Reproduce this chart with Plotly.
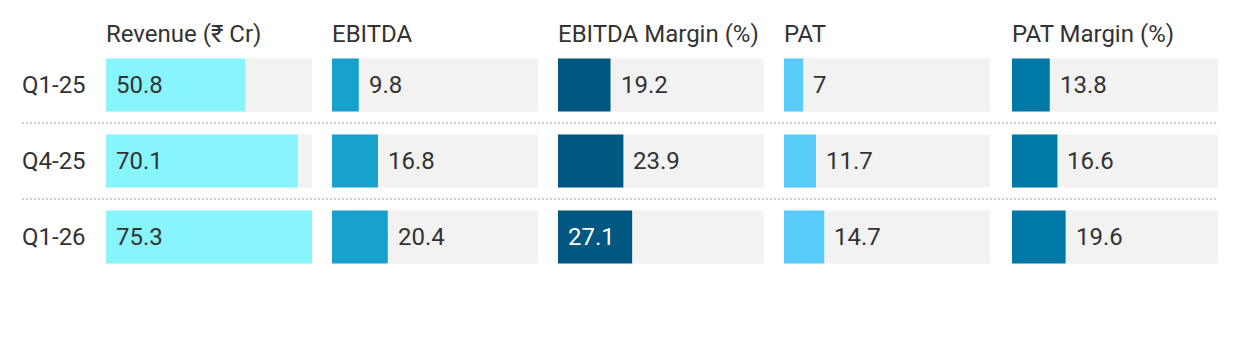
import plotly.graph_objects as go

categories = ["Q1-25", "Q4-25", "Q1-26"]
headers = ["Revenue (₹ Cr)", "EBITDA", "EBITDA Margin (%)", "PAT", "PAT Margin (%)"]
revenue = [50.8, 70.1, 75.3]
ebitda = [9.8, 16.8, 20.4]
ebitda_margin = [19.2, 23.9, 27.1]
pat = [7, 11.7, 14.7]
pat_margin = [13.8, 16.6, 19.6]

series = [revenue, ebitda, ebitda_margin, pat, pat_margin]
colors = ["#88f5fc", "#18a1cd", "#00577f", "#59cbf8", "#0079a6"]
dark_bar = [False, False, True, False, True]

W, H = 1240, 350
L, R = 106, 22
PW = W - L - R
col_px = [(106, 312), (332, 538), (558, 764), (784, 990), (1012, 1218)]
FONT = "Roboto"
TXT = "#333333"
FS = 24

xmax = max(max(s) for s in series)

fig = go.Figure()
annotations = []
layout_axes = {}
for i, (vals, col) in enumerate(zip(series, colors)):
    ax = "x" if i == 0 else f"x{i+1}"
    axname = "xaxis" if i == 0 else f"xaxis{i+1}"
    fig.add_trace(go.Bar(x=[xmax] * len(categories), y=categories, orientation="h",
                         marker=dict(color="#f2f2f2", line=dict(width=0)), width=0.7,
                         xaxis=ax, yaxis="y", hoverinfo="skip", showlegend=False))
    fig.add_trace(go.Bar(x=vals, y=categories, orientation="h",
                         marker=dict(color=col, line=dict(width=0)), width=0.7,
                         xaxis=ax, yaxis="y", hoverinfo="skip", showlegend=False))
    d0 = (col_px[i][0] - L) / PW
    d1 = (col_px[i][1] - L) / PW
    layout_axes[axname] = dict(domain=[d0, d1], range=[0, xmax], showgrid=False, zeroline=False,
                               showticklabels=False, showline=False, fixedrange=True, anchor="y")
    for c, v in zip(categories, vals):
        inside = v / xmax > 0.33
        color = ("#ffffff" if dark_bar[i] else TXT) if inside else TXT
        annotations.append(dict(x=0 if inside else v, y=c, xref=ax, yref="y", text=f"{v:g}",
                                showarrow=False, xanchor="left", yanchor="middle", xshift=8,
                                font=dict(family=FONT, size=FS, color=color)))
    annotations.append(dict(x=0, y=1, xref=f"{ax} domain", yref="paper", text=headers[i],
                            showarrow=False, xanchor="left", yanchor="bottom", xshift=-2, yshift=-3,
                            font=dict(family=FONT, size=FS, color=TXT)))

for c in categories:
    annotations.append(dict(x=(22 - L) / PW, y=c, xref="paper", yref="y", text=c, showarrow=False,
                            xanchor="left", yanchor="middle", xshift=-2,
                            font=dict(family=FONT, size=FS, color=TXT)))

shapes = []
for k in range(len(categories) - 1):
    shapes.append(dict(type="line", xref="paper", yref="y", x0=(22 - L) / PW, x1=1,
                       y0=k + 0.5, y1=k + 0.5, line=dict(color="#cccccc", width=2, dash="2px,2px")))

fig.update_layout(
    width=W, height=H,
    margin=dict(l=L, r=R, t=47, b=75),
    paper_bgcolor="white", plot_bgcolor="white",
    barmode="overlay", bargap=0.3,
    yaxis=dict(domain=[0, 1], range=[2.5, -0.5], showgrid=False, zeroline=False,
               showticklabels=False, fixedrange=True, anchor="x"),
    annotations=annotations, shapes=shapes,
    font=dict(family=FONT, color=TXT),
    **layout_axes,
)

fig.write_html("out.html", config={"displayModeBar": False})
